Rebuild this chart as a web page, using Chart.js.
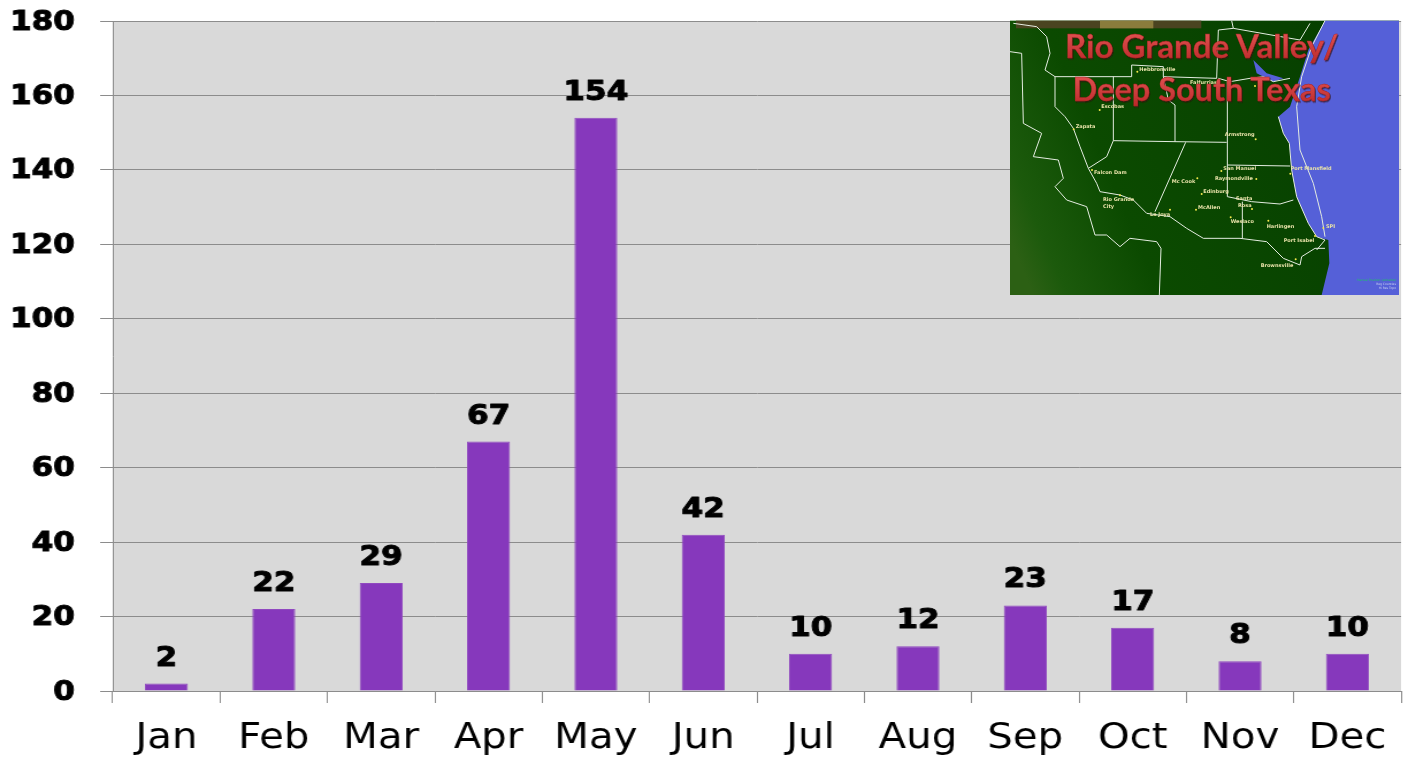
<!DOCTYPE html>
<html>
<head>
<meta charset="utf-8">
<title>Rio Grande Valley / Deep South Texas</title>
<script src="https://cdn.jsdelivr.net/npm/chart.js@4"></script>
<style>
    html, body { margin: 0; padding: 0; background: #fff; overflow: hidden; }
    #wrap { position: relative; width: 1408px; height: 758px; overflow: hidden; }
    /* the original picture is stretched sideways, so stretch the canvas too */
    #chart { position: absolute; left: 0; top: 0; transform-origin: 0 0; transform: scaleX(1.1503); }
    #map { position: absolute; left: 1000px; top: 10px; width: 408px; height: 295px; }
    #map .city { font: bold 15px "DejaVu Sans", sans-serif; fill: #e8e2a8; }
    #map .title { font: bold 98px Lato, sans-serif; fill: url(#titleFill); stroke: #a82020; stroke-width: 1; }
</style>
</head>
<body>
<div id="wrap">
    <canvas id="chart" width="1224" height="758"></canvas>
    <svg id="map" viewBox="0 0 1224 885">
        <defs>
            <linearGradient id="land" x1="0" x2="1" y1="0.8" y2="0.5">
                <stop offset="0" stop-color="#2c6014"/>
                <stop offset="0.08" stop-color="#1c5a0c"/>
                <stop offset="0.3" stop-color="#0b4a00"/>
                <stop offset="1" stop-color="#063f00"/>
            </linearGradient>
            <linearGradient id="titleFill" x1="0" x2="0" y1="0" y2="1">
                <stop offset="0" stop-color="#e85a5a"/>
                <stop offset="1" stop-color="#b82626"/>
            </linearGradient>
            <filter id="soft"><feGaussianBlur stdDeviation="0.7"/></filter>
            <filter id="shadow"><feDropShadow dx="3" dy="4" stdDeviation="2" flood-color="#301010" flood-opacity="0.7"/></filter>
        </defs>
        <rect x="30" y="32" width="1167" height="823" fill="url(#land)"/>
        <path d="M975 32 L925 120 L900 200 L870 290 L835 320 L850 370 L868 400 L875 480 L890 560 L925 640 L950 680 L985 690 L988 760 L965 855 L1197 855 L1197 32 Z" fill="#5560d8"/>
        <path d="M760 150 L800 190 L850 205 L820 215 L770 190 Z" fill="#5560d8"/>
        <rect x="48" y="32" width="556" height="23" fill="#4a4420"/>
        <rect x="300" y="32" width="160" height="23" fill="#8a7c3c"/>
        <g fill="none" stroke="#e4ece0" stroke-width="3" filter="url(#soft)">
            <path d="M975 32 L935 110 L905 200 L890 290 L900 420 L940 520 L965 620 L975 680"/>
            <path d="M40 40 L110 50 L140 80 L150 130 L135 180 L165 200 L395 200 L395 165 L490 170 L490 200 L650 205 L655 60 L700 55 L695 32"/>
            <path d="M655 205 L690 215 L750 205 L790 200 L820 215 L870 205"/>
            <path d="M700 55 L900 90 L930 40"/>
            <path d="M340 200 L340 392 L525 395 L680 397"/>
            <path d="M525 395 L525 285 L505 270 L490 200"/>
            <path d="M682 215 L682 465 L870 468"/>
            <path d="M340 392 L320 440 L265 475"/>
            <path d="M557 397 L465 605"/>
            <path d="M165 200 L165 290 L195 320 L220 355 L240 410 L265 475 L290 520 L300 545 L360 555 L400 570 L440 610 L510 620 L560 655 L610 685 L720 685 L800 695 L850 745 L900 765 L905 740 L945 715 L975 715"/>
            <path d="M30 125 L65 130 L70 340 L125 370 L100 440 L175 450 L190 505 L165 530 L200 570 L260 590 L285 675 L320 675 L360 710 L390 685 L470 695 L483 715 L478 855"/>
            <path d="M682 465 L682 560 L755 575 L840 582 L880 570"/>
            <path d="M727 575 L727 685"/>
            <path d="M835 320 L850 370 L868 400 L875 480 L890 560 L925 640 L950 680 L975 690 L950 720"/>
        </g>
        <g>
            <text class="city" x="418" y="182">Hebbronville</text>
            <text class="city" x="570" y="222">Falfurrias</text>
            <text class="city" x="304" y="293">Escobas</text>
            <text class="city" x="227" y="353">Zapata</text>
            <text class="city" x="674" y="379">Armstrong</text>
            <text class="city" x="282" y="492">Falcon Dam</text>
            <text class="city" x="670" y="481">San Manuel</text>
            <text class="city" x="645" y="509">Raymondville</text>
            <text class="city" x="515" y="519">Mc Cook</text>
            <text class="city" x="610" y="549">Edinburg</text>
            <text class="city" x="309" y="574">Rio Grande</text>
            <text class="city" x="309" y="594">City</text>
            <text class="city" x="708" y="570">Santa</text>
            <text class="city" x="714" y="590">Rosa</text>
            <text class="city" x="594" y="597">McAllen</text>
            <text class="city" x="450" y="618">La Joya</text>
            <text class="city" x="692" y="640">Weslaco</text>
            <text class="city" x="800" y="653">Harlingen</text>
            <text class="city" x="851" y="695">Port Isabel</text>
            <text class="city" x="872" y="481">Port Mansfield</text>
            <text class="city" x="978" y="653">SPI</text>
            <text class="city" x="782" y="771">Brownsville</text>
        </g>
        <g fill="#f4e84a">
            <circle cx="412" cy="185" r="3"/><circle cx="299" cy="300" r="3"/><circle cx="221" cy="358" r="3"/>
            <circle cx="767" cy="388" r="3"/><circle cx="276" cy="480" r="3"/><circle cx="664" cy="483" r="3"/>
            <circle cx="769" cy="507" r="3"/><circle cx="592" cy="505" r="3"/><circle cx="605" cy="552" r="3"/>
            <circle cx="360" cy="556" r="3"/><circle cx="756" cy="597" r="3"/><circle cx="588" cy="599" r="3"/>
            <circle cx="510" cy="599" r="3"/><circle cx="692" cy="622" r="3"/><circle cx="805" cy="632" r="3"/>
            <circle cx="945" cy="678" r="3"/><circle cx="871" cy="491" r="3"/><circle cx="970" cy="654" r="3"/>
            <circle cx="887" cy="748" r="3"/><circle cx="765" cy="228" r="3"/>
        </g>
        <g font-family="DejaVu Sans" font-size="9" text-anchor="end">
            <text x="1188" y="812" fill="#1fc06a">Manual Position (editable)</text>
            <text x="1188" y="825" fill="#c8d0f0">Reg Counties</text>
            <text x="1188" y="838" fill="#c8d0f0">Hi Res Topo</text>
        </g>
        <g filter="url(#shadow)" text-anchor="middle">
            <text class="title" x="605" y="144" textLength="820" lengthAdjust="spacingAndGlyphs">Rio Grande Valley/</text>
            <text class="title" x="605" y="274" textLength="775" lengthAdjust="spacingAndGlyphs">Deep South Texas</text>
        </g>
    </svg>
</div>

<script>
// Chart values
const months = ['Jan', 'Feb', 'Mar', 'Apr', 'May', 'Jun', 'Jul', 'Aug', 'Sep', 'Oct', 'Nov', 'Dec'];
const counts = [2, 22, 29, 67, 154, 42, 10, 12, 23, 17, 8, 10];
const yMax = 180;
const yStep = 20;

const boldFont = '"DejaVu Sans", sans-serif';

// Grey panel behind the bars
const plotBackground = {
    id: 'plotBackground',
    beforeDraw(chart) {
        const a = chart.chartArea;
        chart.ctx.save();
        chart.ctx.fillStyle = '#d9d9d9';
        chart.ctx.fillRect(a.left, a.top, a.right - a.left, a.bottom - a.top);
        chart.ctx.restore();
    }
};

// Value printed above each bar
const valueLabels = {
    id: 'valueLabels',
    afterDatasetsDraw(chart) {
        const ctx = chart.ctx;
        ctx.save();
        ctx.font = 'bold 27px ' + boldFont;
        ctx.fillStyle = '#000';
        ctx.strokeStyle = '#000';
        ctx.lineWidth = 1;
        ctx.lineJoin = 'round';
        ctx.textAlign = 'center';
        ctx.textBaseline = 'alphabetic';
        chart.getDatasetMeta(0).data.forEach(function(bar, i) {
            ctx.strokeText(counts[i], bar.x, bar.y - 18);
            ctx.fillText(counts[i], bar.x, bar.y - 18);
        });
        ctx.restore();
    }
};

new Chart(document.getElementById('chart'), {
    type: 'bar',
    data: {
        labels: months,
        datasets: [{
            data: counts,
            backgroundColor: '#8638bc',
            borderColor: '#9048c0',
            borderWidth: 1,
            barPercentage: 0.4,
            categoryPercentage: 1
        }]
    },
    options: {
        responsive: false,
        animation: false,
        devicePixelRatio: 1,
        layout: { padding: { top: 21, right: 6, left: 0, bottom: 0 } },
        plugins: { legend: { display: false }, tooltip: { enabled: false } },
        scales: {
            x: {
                afterFit: function(scale) { scale.height = 67; },
                grid: {
                    offset: true,
                    drawOnChartArea: false,
                    drawTicks: true,
                    tickLength: 12,
                    color: '#8c8c8c'
                },
                border: { color: '#8c8c8c' },
                ticks: {
                    font: { family: boldFont, size: 35 },
                    color: '#000',
                    padding: 15,
                    maxRotation: 0,
                    autoSkip: false
                }
            },
            y: {
                min: 0,
                max: yMax,
                afterFit: function(scale) {
                    scale.width = 98;
                    scale.paddingTop = 0;
                    scale.paddingBottom = 0;
                },
                grid: { color: '#8c8c8c', tickLength: 11 },
                border: { color: '#8c8c8c' },
                ticks: {
                    stepSize: yStep,
                    font: { family: boldFont, size: 27, weight: 'bold' },
                    color: '#000',
                    textStrokeColor: '#000',
                    textStrokeWidth: 1,
                    labelOffset: 1.5,
                    padding: 22
                }
            }
        }
    },
    plugins: [plotBackground, valueLabels]
});
</script>
</body>
</html>
